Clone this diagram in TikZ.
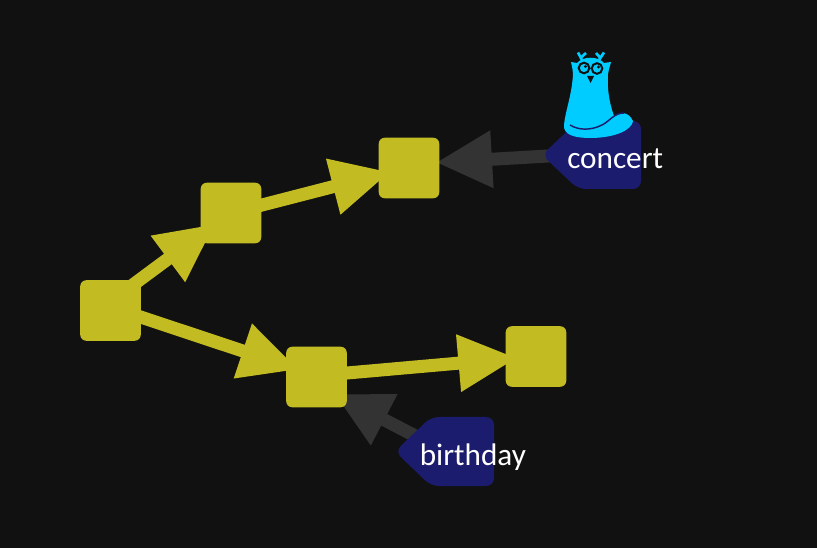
\documentclass[tikz,border=0pt]{standalone}
\usepackage{fontspec}
\setmainfont{Carlito}
\usetikzlibrary{arrows.meta, backgrounds}
\definecolor{pagebg}{HTML}{111111}
\definecolor{boxyellow}{HTML}{C2BC22}
\definecolor{arrowgrey}{HTML}{333333}
\definecolor{tagblue}{HTML}{1C1C6E}
\definecolor{owlblue}{HTML}{00CCFF}
\tikzset{
  commit/.style={draw=none, fill=boxyellow, rounded corners=4.5pt, minimum size=45.4pt, inner sep=0pt},
  tagtext/.style={text=white, font=\fontsize{23.4}{24}\selectfont, inner sep=0pt},
  tagbox/.style={fill=tagblue, rounded corners=6pt},
  yellowedge/.style={draw=boxyellow, line width=9.75pt, -{Triangle[length=44pt, width=40.5pt]}},
  greyedge/.style={draw=arrowgrey, line width=9.75pt, -{Triangle[length=42pt, width=40.5pt]}},
}
\begin{document}
\begin{tikzpicture}[x=.75pt, y=-.75pt]
\useasboundingbox (0,0) rectangle (817,548);
\node[commit] (first) at (110.5,310.5) {};
\node[commit] (upper) at (231,213) {};
\node[commit] (top) at (409,168) {};
\node[commit] (lower) at (316.5,377) {};
\node[commit] (last) at (536,356.5) {};
\coordinate (concert tag) at (600,153);
\coordinate (birthday tag) at (450,454);
%
\begin{scope}[on background layer]
\fill[pagebg] (0,0) rectangle (817,548);
\draw[yellowedge] ([shift={(0,-9)}]first.center) -- ([shift={(-16,11)}]upper.center);
\draw[yellowedge] (upper.center) -- ([shift={(-19,4)}]top.center);
\draw[yellowedge] ([shift={(0,-3.5)}]first.center) -- ([shift={(-18,-7.5)}]lower.center);
\draw[yellowedge] ([shift={(0,-1.3)}]lower.center) -- ([shift={(-19,1.5)}]last.center);
\draw[greyedge] (concert tag) -- ([shift={(27,-5.5)}]top.center);
\draw[greyedge] (birthday tag) -- ([shift={(18,17)}]lower.center);
\end{scope}
%
\fill[tagbox] (542,155) -- (578,121) -- (641,121) -- (641,189) -- (578,189) -- cycle;
\fill[tagbox] (395,451.5) -- (431,417) -- (494,417) -- (494,486) -- (431,486) -- cycle;
\node[tagtext, anchor=base west] (concert) at (567,169) {concert};
\node[tagtext, anchor=base west] (birthday) at (419.5,465) {birthday};
%
% owl sitting on the concert tag
\fill[owlblue] (571,62) -- (577,63) .. controls (583,56) and (598,56) .. (604,63) -- (611,62)
  .. controls (610,67) and (608,70) .. (608,74) .. controls (607,88) and (609,102) .. (614,116)
  .. controls (620,112) and (628,111) .. (633,121) .. controls (632,130) and (615,138) .. (590,138)
  .. controls (575,138) and (563,135) .. (564,125) .. controls (565,112) and (572,95) .. (573,74)
  .. controls (573,70) and (572,67) .. (571,62) -- cycle;
\draw[owlblue, line width=2pt] (582,60) -- (578,52.5) (581,57.5) -- (586,53) (599,60) -- (604,52.5) (600,57.5) -- (596,53);
\draw[tagblue, line width=1.1pt] (570,125) .. controls (578,130) and (590,131) .. (602,125) .. controls (610,121) and (614,113) .. (624,113);
\draw[pagebg, line width=1.5pt] (584,68) circle (5.3) (597,68.5) circle (5.3);
\fill[pagebg] (585.5,66.5) circle (1.6) (598.5,67) circle (1.6);
\fill[pagebg] (587,76) -- (594,76) -- (590.5,83) -- cycle;
\end{tikzpicture}
\end{document}
